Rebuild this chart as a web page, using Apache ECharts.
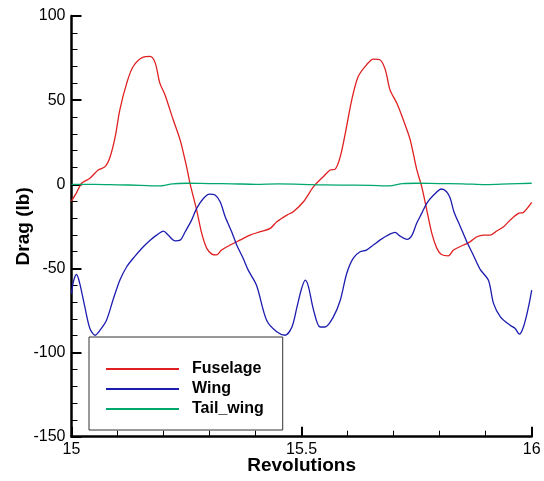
<!DOCTYPE html>
<html>
<head>
<meta charset="utf-8">
<script src="https://cdn.jsdelivr.net/npm/echarts@6/dist/echarts.min.js"></script>
<style>
html,body{margin:0;padding:0;background:#fff;}
#chart{width:544px;height:481px;}
</style>
</head>
<body>
<div id="chart"></div>
<script>
var seriesNames = ['Fuselage', 'Wing', 'Tail_wing'];
var xTicks = [15, 15.5, 16];
var yTicks = [-150, -100, -50, 0, 50, 100];

var fuselage = [
[15.000,-10],[15.011,-5],[15.022,0.6],[15.040,3.6],[15.058,8.5],[15.073,10.5],[15.084,16.4],
[15.095,28.3],[15.105,44.2],[15.120,60.1],[15.134,70],[15.156,75.6],[15.171,76],[15.182,72],
[15.192,60.1],[15.203,53.2],[15.221,38.3],[15.236,26.4],[15.250,10.5],[15.258,0],[15.272,-15.3],
[15.283,-29.2],[15.294,-38.1],[15.305,-41.5],[15.315,-42],[15.326,-39.1],[15.345,-36.1],
[15.366,-33.2],[15.388,-30.2],[15.410,-28.2],[15.432,-26.2],[15.446,-22.3],[15.468,-18.3],
[15.482,-16.3],[15.504,-10.4],[15.526,-1.4],[15.547,4.5],[15.562,8.5],[15.573,9],[15.584,16.4],
[15.595,30.4],[15.609,50.2],[15.623,64],[15.641,71],[15.656,74.4],[15.670,74],[15.682,68],
[15.692,56.1],[15.707,48.2],[15.721,38.3],[15.736,26.4],[15.750,9],[15.761,-1.4],[15.772,-15.3],
[15.783,-29.2],[15.794,-38.1],[15.804,-41.7],[15.819,-42.5],[15.830,-39.1],[15.852,-36.1],
[15.866,-34.2],[15.881,-31.2],[15.895,-30.2],[15.910,-30.2],[15.924,-27.8],[15.939,-25.2],
[15.953,-21.3],[15.971,-17.3],[15.982,-16.7],[16.000,-10.7]
];

var wing = [
[15.000,-65],[15.005,-57],[15.011,-53.6],[15.018,-59],[15.029,-72.9],[15.040,-85.7],[15.051,-89.7],
[15.062,-86.7],[15.076,-80.8],[15.090,-68.9],[15.105,-57],[15.120,-49],[15.138,-42.7],[15.156,-37.1],
[15.171,-33.2],[15.185,-30.2],[15.200,-27.8],[15.210,-30.2],[15.225,-33.6],[15.236,-33.2],
[15.247,-28.2],[15.261,-21.3],[15.272,-14.3],[15.287,-8.3],[15.300,-5.8],[15.312,-6.4],
[15.323,-10.4],[15.334,-19.3],[15.348,-28.2],[15.359,-36.1],[15.373,-44],[15.384,-51],
[15.402,-60],[15.424,-80.8],[15.446,-87.7],[15.464,-89.7],[15.479,-84.8],[15.490,-72.9],
[15.500,-61.9],[15.508,-57],[15.515,-61],[15.526,-74.8],[15.540,-84.8],[15.551,-84.8],
[15.569,-78.8],[15.584,-68.9],[15.598,-53],[15.612,-44],[15.627,-40.1],[15.641,-39.1],
[15.656,-36.1],[15.670,-33.2],[15.685,-30.6],[15.703,-28.6],[15.714,-30.8],[15.729,-32.7],
[15.740,-30.2],[15.750,-23.2],[15.761,-17.3],[15.772,-11.3],[15.787,-6.4],[15.804,-2.8],
[15.815,-4.4],[15.823,-8.3],[15.831,-16.3],[15.845,-25.2],[15.859,-34.2],[15.873,-42],
[15.888,-50.6],[15.906,-57],[15.917,-70.8],[15.932,-78.8],[15.953,-83.8],[15.964,-85.7],
[15.973,-89.1],[15.982,-84.8],[15.993,-72.9],[16.000,-62.9]
];

var tailWing = [
[15.00,0],[15.05,0],[15.10,-0.3],[15.15,-0.6],[15.19,-1],[15.22,0.3],[15.25,0.6],[15.30,0.4],
[15.35,0.3],[15.40,0],[15.45,0.2],[15.50,0],[15.55,-0.4],[15.60,-0.5],[15.65,-0.6],[15.69,-1],
[15.72,0.4],[15.75,0.6],[15.80,0.4],[15.85,0.3],[15.90,-0.2],[15.95,0.2],[16.00,0.6]
];

var colors = ['#e02020', '#1c1cb0', '#00a86b'];
var fontFam = '"Liberation Sans", Arial, Helvetica, sans-serif';

var chart = echarts.init(document.getElementById('chart'), null, {renderer: 'canvas'});

function axisCommon() {
  return {
    axisLine: {show: true, onZero: false, lineStyle: {color: '#000', width: 2.5}},
    axisTick: {show: true, inside: true, length: 10, lineStyle: {color: '#000', width: 2}},
    minorTick: {show: true, splitNumber: 5, length: 6, lineStyle: {color: '#000', width: 1}},
    splitLine: {show: false},
    minorSplitLine: {show: false},
    axisLabel: {color: '#000', fontSize: 16, fontFamily: fontFam},
    nameMoveOverlap: false,
    nameTextStyle: {color: '#000', fontSize: 19, fontWeight: 'bold', fontFamily: fontFam}
  };
}

var xAxis = axisCommon();
Object.assign(xAxis, {
  type: 'value', min: xTicks[0], max: xTicks[xTicks.length - 1], interval: 0.5,
  name: 'Revolutions', nameLocation: 'middle', nameGap: 20
});
xAxis.axisLabel.margin = 5;

var yAxis = axisCommon();
Object.assign(yAxis, {
  type: 'value', min: yTicks[0], max: yTicks[yTicks.length - 1], interval: 50,
  name: 'Drag (lb)', nameLocation: 'middle', nameGap: 38
});
yAxis.axisLabel.margin = 6;

function lineSeries(name, data, color) {
  return {
    name: name, type: 'line', data: data, showSymbol: false, symbol: 'none',
    smooth: 0.3, lineStyle: {color: color, width: 1.3}, itemStyle: {color: color},
    animation: false, z: 2
  };
}

chart.setOption({
  animation: false,
  backgroundColor: '#fff',
  grid: {left: 71.5, right: 12.3, top: 16, bottom: 44.3, containLabel: false, outerBoundsMode: 'none'},
  xAxis: xAxis,
  yAxis: yAxis,
  legend: {
    show: true, orient: 'vertical', left: 89, top: 337,
    data: seriesNames,
    icon: 'rect', itemWidth: 73, itemHeight: 2, itemGap: 4,
    padding: [24, 19, 13, 17],
    backgroundColor: '#fff', borderColor: '#333', borderWidth: 1, borderRadius: 0,
    textStyle: {color: '#000', fontSize: 16, fontWeight: 'bold', fontFamily: fontFam, padding: [0,0,0,8]},
    selectedMode: false,
    z: 10
  },
  series: [
    lineSeries(seriesNames[0], fuselage, colors[0]),
    lineSeries(seriesNames[1], wing, colors[1]),
    lineSeries(seriesNames[2], tailWing, colors[2])
  ]
});
</script>
</body>
</html>
